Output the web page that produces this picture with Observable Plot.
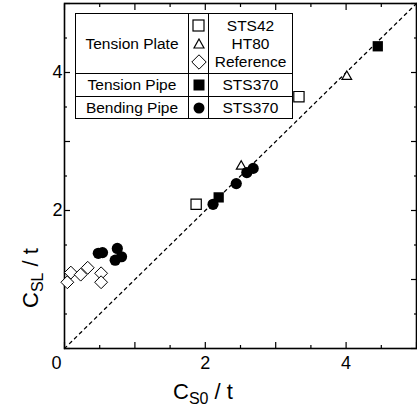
<!DOCTYPE html>
<html><head><meta charset="utf-8">
<script src="https://cdn.jsdelivr.net/npm/d3@7"></script>
<script src="https://cdn.jsdelivr.net/npm/@observablehq/plot@0.6"></script>
<style>
body{margin:0;background:#fff;}
#wrap{position:relative;width:417px;height:410px;font-family:"Liberation Sans",Arial,sans-serif;color:#000;}
table.lg{position:absolute;left:75px;top:13px;border-collapse:collapse;table-layout:fixed;background:#fff;font-size:15.5px;}
table.lg td{border:1.5px solid #000;padding:0;text-align:center;vertical-align:middle;line-height:18px;}
table.lg td.sym{line-height:0;}
table.lg td.sym svg{display:block;margin:0 auto;}
</style></head><body><div id="wrap"></div>
<script>
// ---- data ----
const sts42X = [1.87, 3.33];
const sts42Y = [2.09, 3.65];
const ht80X = [2.51, 4.01];
const ht80Y = [2.64, 3.94];
const refX = [0.04, 0.09, 0.23, 0.33, 0.52, 0.52];
const refY = [0.96, 1.10, 1.07, 1.17, 1.09, 0.96];
const tensionPipeX = [2.19, 4.45];
const tensionPipeY = [2.19, 4.38];
const bendingPipeX = [0.48, 0.54, 0.75, 0.81, 0.72, 2.11, 2.44, 2.59, 2.68];
const bendingPipeY = [1.38, 1.39, 1.45, 1.33, 1.28, 2.09, 2.39, 2.55, 2.61];
const diagonal = [0, 5];
const majorTicks = [0, 1, 2, 3, 4, 5];
const minorTicks = [0.5, 1.5, 2.5, 3.5, 4.5];
const labelTicks = [2, 4];
const originTick = [0];

const pts = (xs, ys) => xs.map((x, i) => ({x, y: ys[i]}));
const font = "Liberation Sans, Arial, sans-serif";
const fmt = d => String(d);

const plot = Plot.plot({
  width: 417, height: 410,
  marginTop: 3, marginRight: 1, marginBottom: 62, marginLeft: 64,
  x: {domain: [0, 5]},
  y: {domain: [0, 5]},
  style: {fontFamily: font, background: "#fff", color: "#000"},
  marks: [
    Plot.line(diagonal, {x: d => d, y: d => d, stroke: "#000", strokeWidth: 1.3, strokeDasharray: "3,4"}),
    // ticks inward on all four sides
    Plot.axisX(majorTicks, {anchor: "bottom", tickSize: -6, fill: "none", label: null, strokeWidth: 1.2}),
    Plot.axisX(minorTicks, {anchor: "bottom", tickSize: -3, fill: "none", label: null, strokeWidth: 1.2}),
    Plot.axisX(majorTicks, {anchor: "top", tickSize: -6, fill: "none", label: null, strokeWidth: 1.2}),
    Plot.axisX(minorTicks, {anchor: "top", tickSize: -3, fill: "none", label: null, strokeWidth: 1.2}),
    Plot.axisY(majorTicks, {anchor: "left", tickSize: -6, fill: "none", label: null, strokeWidth: 1.2}),
    Plot.axisY(minorTicks, {anchor: "left", tickSize: -3, fill: "none", label: null, strokeWidth: 1.2}),
    Plot.axisY(majorTicks, {anchor: "right", tickSize: -6, fill: "none", label: null, strokeWidth: 1.2}),
    Plot.axisY(minorTicks, {anchor: "right", tickSize: -3, fill: "none", label: null, strokeWidth: 1.2}),
    // tick labels
    Plot.axisX(labelTicks, {anchor: "bottom", tickSize: 0, tickPadding: 8, fontSize: 18, tickFormat: fmt, label: null}),
    Plot.axisX(originTick, {anchor: "bottom", tickSize: 0, tickPadding: 8, fontSize: 18, tickFormat: fmt, dx: -8, label: null}),
    Plot.axisY(labelTicks, {anchor: "left", tickSize: 0, tickPadding: 2, fontSize: 18, tickFormat: fmt, label: null}),
    Plot.frame({stroke: "#000", strokeWidth: 1.6}),
    // data
    Plot.dot(pts(refX, refY), {x: "x", y: "y", symbol: "diamond2", r: 5.8, fill: "#fff", stroke: "#000", strokeWidth: 1}),
    Plot.dot(pts(sts42X, sts42Y), {x: "x", y: "y", symbol: "square", r: 5.8, fill: "#fff", stroke: "#000", strokeWidth: 1.2}),
    Plot.dot(pts(ht80X, ht80Y), {x: "x", y: "y", symbol: "triangle", r: 3.6, fill: "#fff", stroke: "#000", strokeWidth: 1.2}),
    Plot.dot(pts(tensionPipeX, tensionPipeY), {x: "x", y: "y", symbol: "square", r: 5.8, fill: "#000"}),
    Plot.dot(pts(bendingPipeX, bendingPipeY), {x: "x", y: "y", symbol: "circle", r: 5.6, fill: "#000"})
  ]
});

const wrap = document.getElementById("wrap");
wrap.appendChild(plot);

// axis titles with subscripts
const svg = d3.select(plot);
const xt = svg.append("text").attr("x", 203).attr("y", 399).attr("font-family", font).attr("fill", "#000");
xt.append("tspan").attr("font-size", 22).text("C");
xt.append("tspan").attr("font-size", 16).attr("dy", 5).text("S0");
xt.append("tspan").attr("font-size", 22).attr("dy", -5).text(" / t");

const yt = svg.append("text").attr("transform", "translate(38,278) rotate(-90)").attr("font-family", font).attr("fill", "#000");
yt.append("tspan").attr("font-size", 22).text("C");
yt.append("tspan").attr("font-size", 16).attr("dy", 5).text("SL");
yt.append("tspan").attr("font-size", 22).attr("dy", -5).text(" / t");

// legend table
const sq = (fill) => `<svg width="13" height="13"><rect x="1" y="1" width="11" height="11" fill="${fill}" stroke="#000" stroke-width="1.2"/></svg>`;
const tri = `<svg width="12" height="11"><path d="M6,1 L11,10 L1,10 Z" fill="#fff" stroke="#000" stroke-width="1.2"/></svg>`;
const dia = `<svg width="16" height="16"><path d="M8,0.8 L15.2,8 L8,15.2 L0.8,8 Z" fill="#fff" stroke="#000" stroke-width="1"/></svg>`;
const circ = `<svg width="12" height="12"><circle cx="6" cy="6" r="5.5" fill="#000"/></svg>`;
const fsq = `<svg width="12" height="12"><rect x="0.5" y="0.5" width="11" height="11" fill="#000"/></svg>`;

const cell = s => `<div style="height:18px;display:flex;align-items:center;justify-content:center">${s}</div>`;
const tbl = document.createElement("table");
tbl.className = "lg";
tbl.innerHTML = `
<colgroup><col style="width:113px"><col style="width:20px"><col style="width:84px"></colgroup>
<tr style="height:60px"><td>Tension Plate</td>
<td class="sym">${cell(sq("#fff"))}${cell(tri)}${cell(dia)}</td>
<td>STS42<br>HT80<br>Reference</td></tr>
<tr style="height:23px"><td>Tension Pipe</td><td class="sym">${fsq}</td><td>STS370</td></tr>
<tr style="height:22px"><td>Bending Pipe</td><td class="sym">${circ}</td><td>STS370</td></tr>`;
wrap.appendChild(tbl);
</script>
</body></html>
